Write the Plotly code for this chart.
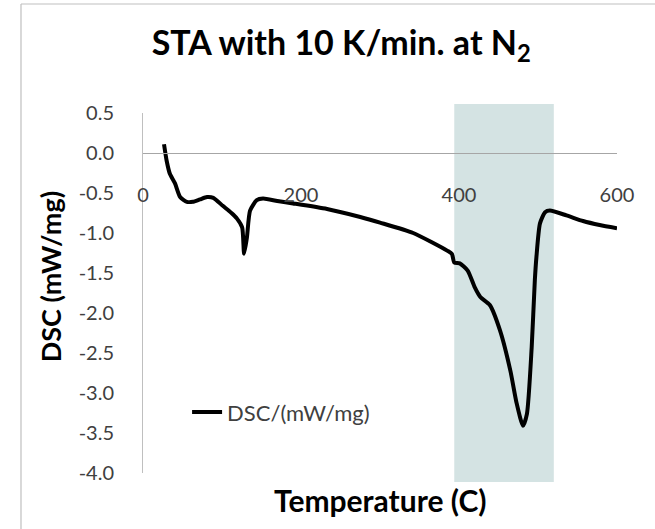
import plotly.graph_objects as go

# DSC curve
temperature = [26.6, 30, 34, 40.5, 47, 55.5, 63, 72, 81, 89, 101, 112, 119, 125.5, 128, 131.5, 135.5,
               144, 152, 170, 190, 233, 275, 300, 342, 385, 391, 394, 401, 411, 420, 427, 439,
               452, 465, 473, 481, 486, 492, 496, 498, 502.5, 509, 515, 536, 557, 578, 600]
dsc = [0.11, -0.10, -0.26, -0.38, -0.55, -0.61, -0.61, -0.58, -0.55, -0.56, -0.66, -0.75, -0.82, -0.93, -1.26, -1.06, -0.72,
       -0.59, -0.57, -0.60, -0.63, -0.70, -0.80, -0.87, -1.00, -1.22, -1.26, -1.37, -1.38, -1.47, -1.68, -1.80, -1.90,
       -2.22, -2.72, -3.13, -3.41, -3.26, -2.43, -1.59, -1.30, -0.88, -0.74, -0.72, -0.78, -0.85, -0.90, -0.94]

series_name = "DSC/(mW/mg)"
highlight_range = [394, 520]
x_ticks = [0, 200, 400, 600]
y_ticks = [0.5, 0.0, -0.5, -1.0, -1.5, -2.0, -2.5, -3.0, -3.5, -4.0]

FONT = "Lato, 'Open Sans', sans-serif"

fig = go.Figure()
fig.add_trace(go.Scatter(
    x=temperature, y=dsc, mode="lines", name=series_name,
    line=dict(color="black", width=4, shape="spline", smoothing=0.6),
))

fig.add_shape(type="rect", xref="x", yref="paper",
              x0=highlight_range[0], x1=highlight_range[1], y0=-0.025, y1=1.025,
              fillcolor="#d4e3e3", line=dict(width=0), layer="below")

# outer chart border (top and left edges visible)
fig.add_shape(type="line", xref="paper", yref="paper", x0=-0.2574, x1=1.2, y0=1.3028, y1=1.3028,
              line=dict(color="#bfbfbf", width=1.2))
fig.add_shape(type="line", xref="paper", yref="paper", x0=-0.2574, x1=-0.2574, y0=-0.3, y1=1.3028,
              line=dict(color="#bfbfbf", width=1.2))

fig.update_layout(
    width=655, height=529,
    margin=dict(l=143, r=38, t=113, b=56),
    paper_bgcolor="white", plot_bgcolor="white",
    font=dict(family=FONT, color="#404040"),
    title=dict(text="<b>STA with 10 K/min. at N<sub>2</sub></b>", x=0.521, xanchor="center",
               y=0.918, yanchor="middle", font=dict(size=34, color="black", family=FONT)),
    showlegend=True,
    legend=dict(x=0.093, y=0.169, xanchor="left", yanchor="middle", bgcolor="rgba(0,0,0,0)",
                font=dict(size=22, color="#404040")),
    xaxis=dict(range=[0, 600], tickvals=x_ticks, ticktext=[str(v) for v in x_ticks],
               showgrid=False, zeroline=False, showline=True, linecolor="#a6a6a6", linewidth=1,
               anchor="free", position=0.8889, ticks="", ticklabelstandoff=24,
               tickfont=dict(size=20, color="#404040")),
    yaxis=dict(range=[-4.0, 0.5], tickvals=y_ticks, ticktext=[f"{v:.1f}" for v in y_ticks],
               showgrid=False, zeroline=False, showline=True, linecolor="#bfbfbf", linewidth=1,
               ticks="", ticklabelstandoff=24, tickfont=dict(size=20, color="#404040")),
    annotations=[
        dict(text="<b>Temperature (C)</b>", xref="paper", yref="paper", x=0.5, y=-0.075,
             xanchor="center", yanchor="middle", showarrow=False,
             font=dict(size=30, color="black", family=FONT)),
        dict(text="<b>DSC (mW/mg)</b>", xref="paper", yref="paper", x=-0.196, y=0.544,
             xanchor="center", yanchor="middle", showarrow=False, textangle=-90,
             font=dict(size=27, color="black", family=FONT)),
    ],
)

fig.write_html("out.html", config={"displayModeBar": False},
               post_script="document.body.style.margin='0';")
